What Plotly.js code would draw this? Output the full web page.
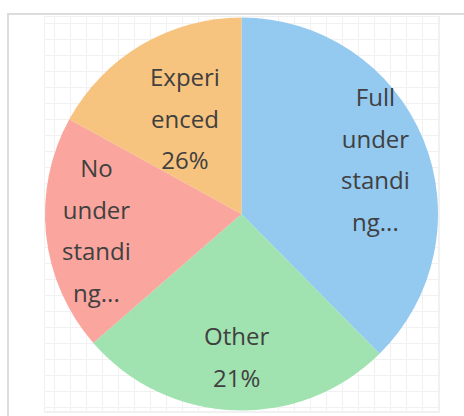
<!DOCTYPE html>
<html>
<head>
<meta charset="utf-8">
<script src="https://cdn.plot.ly/plotly-3.0.1.min.js"></script>
<style>
  html, body { margin: 0; padding: 0; background: #ffffff; }
  #chart { width: 464px; height: 416px; }
</style>
</head>
<body>
<div id="chart"></div>
<script>
// Data (slice order clockwise from 12 o'clock)
const labels = ["Full understanding", "Other", "No understanding", "Experienced"];
const values = [37.6, 26.0, 19.4, 17.0];
// Text as displayed in the reference (wrapped / truncated / shown percentages)
const labelLines = [
  ["Full", "under", "standi", "ng..."],
  ["Other"],
  ["No", "under", "standi", "ng..."],
  ["Experi", "enced"]
];
const shownPct = ["", "21%", "", "26%"];
const colors = [
  "rgba(136,195,238,0.9)",
  "rgba(150,224,169,0.9)",
  "rgba(249,156,149,0.9)",
  "rgba(246,190,113,0.9)"
];
// label placement (fraction of pie radius), a style setting
const labelRadius = [0.735, 0.727, 0.742, 0.568];

const margin = { l: 45, r: 26, t: 17, b: 5 };
const W = 464, H = 416;
const plotW = W - margin.l - margin.r;
const plotH = H - margin.t - margin.b;
const pieR = Math.min(plotW, plotH) / 2;

const total = values.reduce((a, b) => a + b, 0);
let cum = 0;
const annotations = values.map((v, i) => {
  const midFrac = (cum + v / 2) / total;
  cum += v;
  const ang = (90 - 360 * midFrac) * Math.PI / 180;
  const r = labelRadius[i] * pieR;
  const lines = shownPct[i] ? labelLines[i].concat([shownPct[i]]) : labelLines[i];
  return {
    xref: 'paper', yref: 'paper',
    x: 0.5 + r * Math.cos(ang) / plotW,
    y: 0.5 + r * Math.sin(ang) / plotH,
    xanchor: 'center', yanchor: 'middle',
    showarrow: false,
    align: 'center',
    text: lines.map(s => '<span style="font-size:24px">' + s + '</span>').join('<br>'),
    font: { family: 'Open Sans, Noto Sans, sans-serif', size: 32, color: '#404040' }
  };
});

const gridTrace = {
  type: 'scatter', x: [], y: [], mode: 'markers',
  hoverinfo: 'skip', showlegend: false
};

const pieTrace = {
  type: 'pie',
  labels: labels,
  values: values,
  textinfo: 'none',
  marker: { colors: colors, line: { width: 0 } },
  sort: false,
  direction: 'clockwise',
  rotation: 0,
  hoverinfo: 'label+percent',
  showlegend: false
};

const layout = {
  width: W, height: H,
  margin: margin,
  paper_bgcolor: '#ffffff',
  plot_bgcolor: '#ffffff',
  showlegend: false,
  xaxis: {
    range: [0, plotW], tick0: 9.5, dtick: 16,
    showgrid: true, gridcolor: '#f1f1f1', gridwidth: 1.5,
    zeroline: false, showticklabels: false, ticks: '',
    showline: true, mirror: true, linecolor: '#f1f1f1', linewidth: 1.5,
    fixedrange: true
  },
  yaxis: {
    range: [plotH, 0], tick0: 6.5, dtick: 16,
    showgrid: true, gridcolor: '#f1f1f1', gridwidth: 1.5,
    zeroline: false, showticklabels: false, ticks: '',
    showline: true, mirror: true, linecolor: '#f1f1f1', linewidth: 1.5,
    fixedrange: true
  },
  annotations: annotations,
  shapes: [{
    type: 'rect', xref: 'paper', yref: 'paper',
    x0: -0.0941, x1: 1.3, y0: -0.2, y1: 1.0076,
    line: { color: '#dcdcdc', width: 2 },
    fillcolor: 'rgba(0,0,0,0)', layer: 'below'
  }]
};

Plotly.newPlot('chart', [gridTrace, pieTrace], layout, { displayModeBar: false, staticPlot: true });
</script>
</body>
</html>
